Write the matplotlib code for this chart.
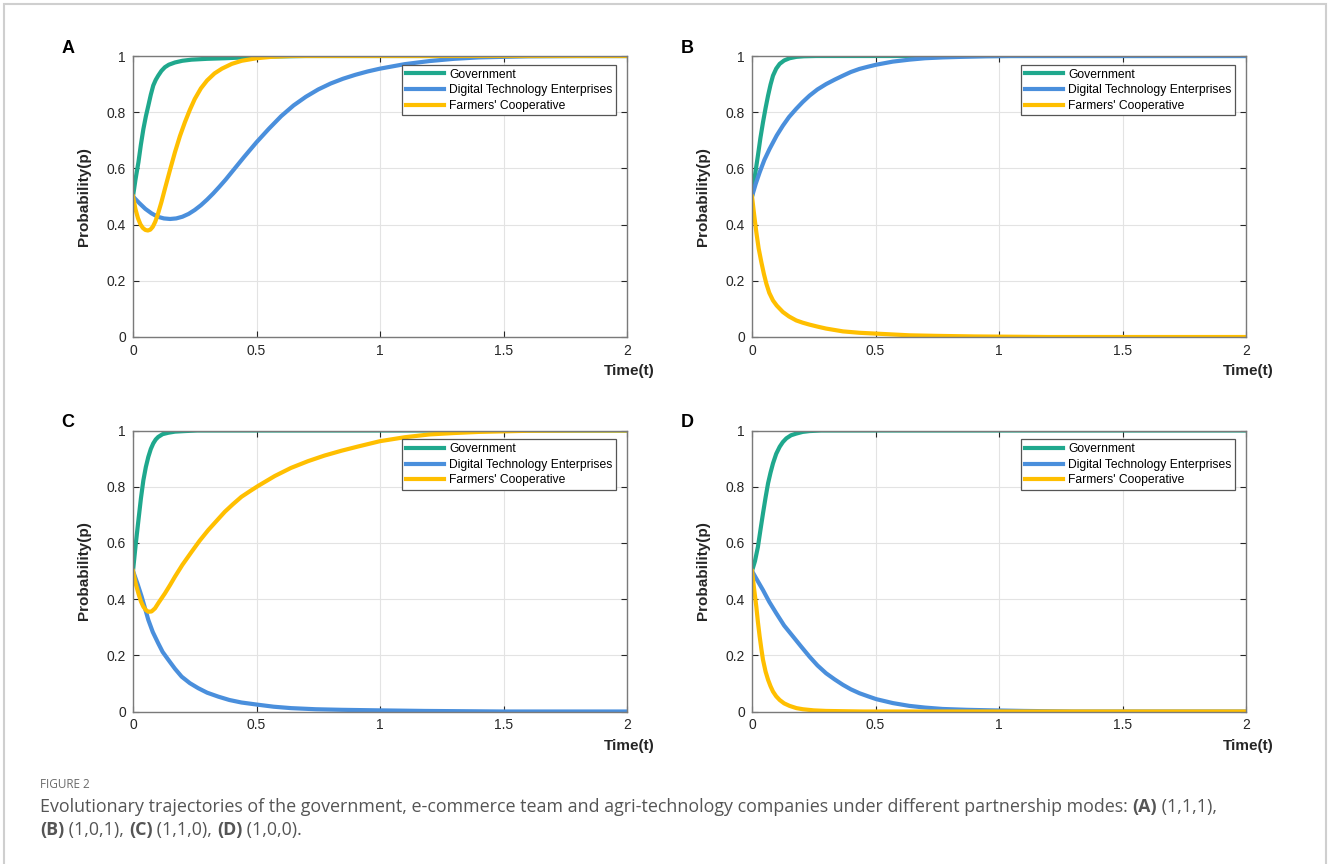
import matplotlib
matplotlib.use("Agg")
import matplotlib.pyplot as plt
from matplotlib.patches import Rectangle

plt.rcParams['font.family'] = ['Liberation Sans', 'DejaVu Sans']

# ---------------- data ----------------
labels = ["Government", "Digital Technology Enterprises", "Farmers' Cooperative"]
panel_names = ["A", "B", "C", "D"]

# panel A (1,1,1)
a_t_gov = [0, 0.01, 0.022, 0.032, 0.042, 0.052, 0.062, 0.072, 0.082, 0.092, 0.102, 0.115, 0.129,
           0.145, 0.17, 0.2, 0.237, 0.3, 0.372, 0.45, 0.55, 0.7, 2.0]
a_p_gov = [0.5, 0.56, 0.622, 0.685, 0.74, 0.785, 0.823, 0.862, 0.895, 0.915, 0.93, 0.947, 0.96,
           0.969, 0.977, 0.983, 0.987, 0.99, 0.992, 0.995, 0.998, 1.0, 1.0]
a_t_tech = [0, 0.025, 0.05, 0.075, 0.1, 0.125, 0.15, 0.175, 0.2, 0.225, 0.25, 0.275, 0.3, 0.325,
            0.35, 0.375, 0.4, 0.45, 0.5, 0.55, 0.6, 0.65, 0.7, 0.75, 0.8, 0.85, 0.9, 0.95, 1.0,
            1.1, 1.2, 1.3, 1.4, 1.5, 1.6, 1.8, 2.0]
a_p_tech = [0.5, 0.477, 0.456, 0.44, 0.428, 0.422, 0.42, 0.422, 0.428, 0.438, 0.452, 0.469, 0.489,
            0.511, 0.535, 0.56, 0.587, 0.641, 0.693, 0.741, 0.786, 0.824, 0.855, 0.881, 0.902,
            0.919, 0.933, 0.945, 0.955, 0.971, 0.982, 0.99, 0.995, 0.997, 0.999, 1.0, 1.0]
a_t_coop = [0, 0.01, 0.02, 0.03, 0.04, 0.05, 0.06, 0.07, 0.08, 0.09, 0.1, 0.115, 0.13, 0.15, 0.17,
            0.19, 0.21, 0.23, 0.25, 0.275, 0.3, 0.33, 0.36, 0.4, 0.44, 0.5, 0.56, 0.64, 2.0]
a_p_coop = [0.5, 0.455, 0.423, 0.401, 0.388, 0.381, 0.379, 0.382, 0.392, 0.41, 0.435, 0.48, 0.53,
            0.595, 0.658, 0.715, 0.764, 0.808, 0.847, 0.885, 0.913, 0.938, 0.955, 0.972, 0.983,
            0.992, 0.997, 1.0, 1.0]

# panel B (1,0,1)
b_t_gov = [0, 0.012, 0.024, 0.034, 0.0445, 0.055, 0.065, 0.075, 0.085, 0.098, 0.112, 0.13, 0.152,
           0.18, 0.21, 0.26, 2.0]
b_p_gov = [0.5, 0.575, 0.646, 0.708, 0.764, 0.815, 0.859, 0.898, 0.93, 0.955, 0.972, 0.984, 0.992,
           0.997, 0.999, 1.0, 1.0]
b_t_tech = [0, 0.015, 0.031, 0.05, 0.071, 0.1, 0.125, 0.15, 0.179, 0.205, 0.233, 0.265, 0.3, 0.335,
            0.368, 0.4, 0.435, 0.47, 0.503, 0.57, 0.637, 0.7, 0.772, 0.85, 0.95, 1.05, 2.0]
b_p_tech = [0.5, 0.545, 0.586, 0.63, 0.669, 0.717, 0.752, 0.783, 0.812, 0.836, 0.859, 0.881, 0.9,
            0.916, 0.93, 0.943, 0.954, 0.962, 0.969, 0.98, 0.987, 0.992, 0.995, 0.997, 0.999, 1.0, 1.0]
b_t_coop = [0, 0.008, 0.0175, 0.027, 0.0377, 0.048, 0.058, 0.07, 0.085, 0.1, 0.125, 0.15, 0.179,
            0.205, 0.233, 0.265, 0.3, 0.368, 0.435, 0.503, 0.637, 0.75, 0.9, 1.2, 2.0]
b_p_coop = [0.5, 0.44, 0.373, 0.315, 0.267, 0.225, 0.19, 0.157, 0.13, 0.112, 0.089, 0.073, 0.059,
            0.051, 0.044, 0.037, 0.03, 0.02, 0.015, 0.012, 0.006, 0.004, 0.002, 0.0, 0.0]

# panel C (1,1,0)
c_t_gov = [0, 0.011, 0.022, 0.032, 0.042, 0.052, 0.062, 0.072, 0.082, 0.092, 0.102, 0.12, 0.143,
           0.17, 0.21, 0.26, 2.0]
c_p_gov = [0.5, 0.595, 0.681, 0.758, 0.823, 0.87, 0.906, 0.934, 0.954, 0.968, 0.977, 0.987, 0.992,
           0.996, 0.998, 1.0, 1.0]
c_t_tech = [0, 0.018, 0.035, 0.05, 0.062, 0.08, 0.102, 0.12, 0.143, 0.17, 0.197, 0.23, 0.264, 0.3,
            0.345, 0.39, 0.439, 0.507, 0.57, 0.64, 0.74, 0.844, 1.0, 1.18, 1.5, 2.0]
c_p_tech = [0.5, 0.455, 0.409, 0.363, 0.326, 0.283, 0.243, 0.212, 0.184, 0.152, 0.124, 0.101, 0.083,
            0.067, 0.053, 0.041, 0.032, 0.024, 0.017, 0.012, 0.008, 0.006, 0.004, 0.002, 0.0, 0.0]
c_t_coop = [0, 0.011, 0.022, 0.032, 0.042, 0.052, 0.062, 0.075, 0.089, 0.105, 0.129, 0.15, 0.17,
            0.2, 0.237, 0.27, 0.305, 0.34, 0.372, 0.405, 0.439, 0.475, 0.507, 0.574, 0.64, 0.709,
            0.776, 0.844, 0.911, 1.0, 1.1, 1.2, 1.3, 1.4, 1.5, 1.6, 1.8, 2.0]
c_p_coop = [0.5, 0.455, 0.42, 0.392, 0.373, 0.361, 0.355, 0.356, 0.367, 0.389, 0.42, 0.45, 0.48,
            0.522, 0.568, 0.608, 0.646, 0.68, 0.711, 0.738, 0.764, 0.785, 0.803, 0.838, 0.867,
            0.891, 0.911, 0.928, 0.943, 0.962, 0.976, 0.986, 0.991, 0.995, 0.997, 0.999, 1.0, 1.0]

# panel D (1,0,0)
d_t_gov = [0, 0.012, 0.024, 0.034, 0.0445, 0.055, 0.065, 0.075, 0.085, 0.098, 0.112, 0.125, 0.139,
           0.158, 0.179, 0.205, 0.233, 0.28, 2.0]
d_p_gov = [0.5, 0.535, 0.586, 0.645, 0.705, 0.762, 0.812, 0.85, 0.883, 0.917, 0.942, 0.959, 0.972,
           0.983, 0.989, 0.995, 0.998, 1.0, 1.0]
d_t_tech = [0, 0.022, 0.0445, 0.07, 0.098, 0.13, 0.166, 0.2, 0.233, 0.265, 0.3, 0.335, 0.368, 0.4,
            0.435, 0.47, 0.503, 0.57, 0.637, 0.7, 0.772, 0.87, 0.974, 1.1, 1.3, 2.0]
d_p_tech = [0.5, 0.466, 0.432, 0.39, 0.35, 0.306, 0.267, 0.23, 0.195, 0.164, 0.136, 0.114, 0.095,
            0.079, 0.065, 0.054, 0.044, 0.03, 0.02, 0.014, 0.009, 0.006, 0.004, 0.002, 0.0, 0.0]
d_t_coop = [0, 0.008, 0.0175, 0.024, 0.031, 0.038, 0.0445, 0.055, 0.065, 0.075, 0.085, 0.098,
            0.112, 0.13, 0.152, 0.18, 0.206, 0.25, 0.3, 0.37, 0.45, 2.0]
d_p_coop = [0.5, 0.44, 0.373, 0.318, 0.267, 0.222, 0.184, 0.142, 0.113, 0.09, 0.071, 0.054, 0.041,
            0.029, 0.02, 0.012, 0.008, 0.004, 0.002, 0.001, 0.0, 0.0]

x_ticks = [0, 0.5, 1, 1.5, 2]
x_tick_labels = ["0", "0.5", "1", "1.5", "2"]
y_ticks = [0, 0.2, 0.4, 0.6, 0.8, 1]
y_tick_labels = ["0", "0.2", "0.4", "0.6", "0.8", "1"]

colors = ["#1fa88d", "#4a8fdc", "#ffbf00"]

panels = [
    [(a_t_gov, a_p_gov), (a_t_tech, a_p_tech), (a_t_coop, a_p_coop)],
    [(b_t_gov, b_p_gov), (b_t_tech, b_p_tech), (b_t_coop, b_p_coop)],
    [(c_t_gov, c_p_gov), (c_t_tech, c_p_tech), (c_t_coop, c_p_coop)],
    [(d_t_gov, d_p_gov), (d_t_tech, d_p_tech), (d_t_coop, d_p_coop)],
]

# ---------------- figure ----------------
W, H = 1330, 864
fig = plt.figure(figsize=(W / 100, H / 100), dpi=100)

# page frame
fig.patches.append(Rectangle((4 / W, -0.01), 1322 / W, 1 - 4 / H + 0.01, transform=fig.transFigure,
                             fill=False, edgecolor="#cfcfcf", linewidth=1.5))

lefts = [133, 752, 133, 752]
tops = [56, 56, 430.5, 430.5]
aw, ah = 494, 281

for i, name in enumerate(panel_names):
    l, t = lefts[i], tops[i]
    ax = fig.add_axes([l / W, 1 - (t + ah) / H, aw / W, ah / H])
    for (tt, pp), c, lab in zip(panels[i], colors, labels):
        ax.plot(tt, pp, color=c, lw=3, label=lab, solid_joinstyle="round")
    ax.set_xlim(0, 2)
    ax.set_ylim(0, 1)
    ax.set_xticks(x_ticks)
    ax.set_xticklabels(x_tick_labels)
    ax.set_yticks(y_ticks)
    ax.set_yticklabels(y_tick_labels)
    ax.grid(True, color="#e3e3e3", lw=0.8)
    ax.set_axisbelow(True)
    ax.tick_params(direction="in", length=4, width=0.8, color="#262626", labelsize=10,
                   labelcolor="#262626", top=True, right=True, pad=5)
    for s in ax.spines.values():
        s.set_color("#7a7a7a")
        s.set_linewidth(1.0)
    ax.set_ylabel("Probability(p)", fontsize=11, fontweight="bold", color="#262626")
    ax.yaxis.set_label_coords(-0.085, 0.5)
    ax.text(1.055, -0.121, "Time(t)", transform=ax.transAxes, ha="right", va="center",
            fontsize=11, fontweight="bold", color="#262626")
    ax.text(-0.132, 1.028, name, transform=ax.transAxes, ha="center", va="center",
            fontsize=13, fontweight="bold", color="black")
    leg = ax.legend(loc="upper right", bbox_to_anchor=(0.978, 0.968), fontsize=8.7,
                    frameon=True, fancybox=False, framealpha=1, edgecolor="#555555",
                    handlelength=3.2, handletextpad=0.4, labelspacing=0.3,
                    borderpad=0.3, borderaxespad=0)
    leg.get_frame().set_linewidth(0.9)
    for line in leg.get_lines():
        line.set_linewidth(3)

# ---------------- caption ----------------
cap_font = ['Open Sans', 'DejaVu Sans']
fig.text(40 / W, 1 - 784 / H, "FIGURE 2", fontsize=8.5, color="#6a6a6a", family=cap_font,
         va="center", ha="left")

renderer = fig.canvas.get_renderer()

line1 = [("Evolutionary trajectories of the government, e-commerce team and agri-technology "
          "companies under different partnership modes: ", False), ("(A)", True), (" (1,1,1),", False)]
line2 = [("(B)", True), (" (1,0,1), ", False), ("(C)", True), (" (1,1,0), ", False),
         ("(D)", True), (" (1,0,0).", False)]


def draw_segments(segments, x0, y0, size):
    x = x0
    for txt, bold in segments:
        tx = fig.text(x / W, 1 - y0 / H, txt, fontsize=size, color="#555555", family=cap_font,
                      fontweight="bold" if bold else "normal", va="center", ha="left")
        x += tx.get_window_extent(renderer=renderer).width
    return x - x0


# fit the first caption line to the width it has in the original
probe = fig.text(0, 0, "".join(s for s, _ in line1), fontsize=11, family=cap_font)
w11 = probe.get_window_extent(renderer=renderer).width
probe.remove()
cap_size = 11 * 1178 / w11

draw_segments(line1, 40, 807, cap_size)
draw_segments(line2, 40, 830, cap_size)

fig.savefig("out.png", dpi=100)
